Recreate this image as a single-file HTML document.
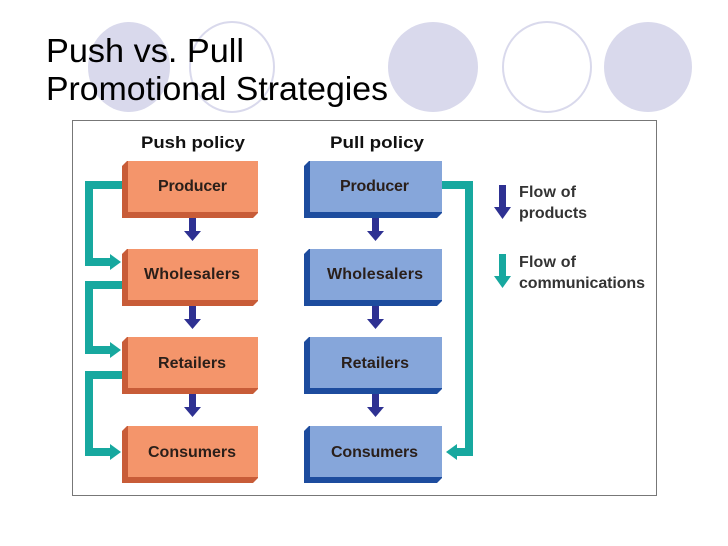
<!DOCTYPE html>
<html><head><meta charset="utf-8"><style>
html,body{margin:0;padding:0;background:#fff;}
svg{display:block;}
text{font-family:"Liberation Sans",sans-serif;}
</style></head><body>
<svg width="728" height="546" viewBox="0 0 728 546" xmlns="http://www.w3.org/2000/svg">
<defs>
<g id="ob">
<polygon points="0,5 5,0 136,0 136,52 131,57 0,57" fill="#C85C38"/>
<rect x="6" y="0" width="130" height="51" fill="#F4956B"/>
</g>
<g id="bb">
<polygon points="0,5 5,0 138,0 138,52 133,57 0,57" fill="#1D4C9E"/>
<rect x="6" y="0" width="132" height="51" fill="#86A6DA"/>
</g>
</defs>
<ellipse cx="129" cy="67" rx="41" ry="45" fill="#D9D9EC"/>
<ellipse cx="232" cy="67" rx="42" ry="45" fill="none" stroke="#D9D9EC" stroke-width="2"/>
<ellipse cx="433" cy="67" rx="45" ry="45" fill="#D9D9EC"/>
<ellipse cx="547" cy="67" rx="44" ry="45" fill="none" stroke="#D9D9EC" stroke-width="2"/>
<ellipse cx="648" cy="67" rx="44" ry="45" fill="#D9D9EC"/>
<text x="46" y="62" font-size="33" fill="#000" textLength="198" lengthAdjust="spacingAndGlyphs">Push vs. Pull</text>
<text x="46" y="100" font-size="33" fill="#000" textLength="342" lengthAdjust="spacingAndGlyphs">Promotional Strategies</text>
<rect x="72.5" y="120.5" width="584" height="375" fill="#fff" stroke="#777" stroke-width="1"/>
<text x="141" y="148" font-size="17" font-weight="bold" fill="#111" textLength="104" lengthAdjust="spacingAndGlyphs">Push policy</text>
<text x="330" y="148" font-size="17" font-weight="bold" fill="#111" textLength="94" lengthAdjust="spacingAndGlyphs">Pull policy</text>
<g fill="none" stroke="#17A89F" stroke-width="8">
<polyline points="122,185 89,185 89,262 112,262"/>
<polyline points="122,285 89,285 89,350 112,350"/>
<polyline points="122,375 89,375 89,452 112,452"/>
<polyline points="442,185 469,185 469,452 455,452"/>
</g>
<g fill="#17A89F">
<polygon points="110,254 121,262 110,270"/>
<polygon points="110,342 121,350 110,358"/>
<polygon points="110,444 121,452 110,460"/>
<polygon points="457,444 446,452 457,460"/>
</g>
<use href="#ob" x="122" y="161"/><use href="#ob" x="122" y="249"/><use href="#ob" x="122" y="337"/><use href="#ob" x="122" y="426"/>
<use href="#bb" x="304" y="161"/><use href="#bb" x="304" y="249"/><use href="#bb" x="304" y="337"/><use href="#bb" x="304" y="426"/>
<g font-size="16" font-weight="bold" fill="#2a1f1a" lengthAdjust="spacingAndGlyphs">
<text x="158" y="191" textLength="69">Producer</text><text x="144" y="279" textLength="96">Wholesalers</text><text x="158" y="368" textLength="68">Retailers</text><text x="148" y="457" textLength="88">Consumers</text>
<text x="340" y="191" textLength="69">Producer</text><text x="327" y="279" textLength="96">Wholesalers</text><text x="341" y="368" textLength="68">Retailers</text><text x="331" y="457" textLength="87">Consumers</text>
</g>
<g fill="#2E3192">
<path d="M189,218h7v13h5l-8.5,10l-8.5,-10h5z"/>
<path d="M189,306h7v13h5l-8.5,10l-8.5,-10h5z"/>
<path d="M189,394h7v13h5l-8.5,10l-8.5,-10h5z"/>
<path d="M372,218h7v13h5l-8.5,10l-8.5,-10h5z"/>
<path d="M372,306h7v13h5l-8.5,10l-8.5,-10h5z"/>
<path d="M372,394h7v13h5l-8.5,10l-8.5,-10h5z"/>
<path d="M499,185h7v22h5l-8.5,12l-8.5,-12h5z"/>
</g>
<path d="M499,254h7v22h5l-8.5,12l-8.5,-12h5z" fill="#17A89F"/>
<g font-size="16" font-weight="bold" fill="#333" lengthAdjust="spacingAndGlyphs">
<text x="519" y="197" textLength="57">Flow of</text><text x="519" y="218" textLength="68">products</text>
<text x="519" y="267" textLength="57">Flow of</text><text x="519" y="288" textLength="126">communications</text>
</g>
</svg>
</body></html>
